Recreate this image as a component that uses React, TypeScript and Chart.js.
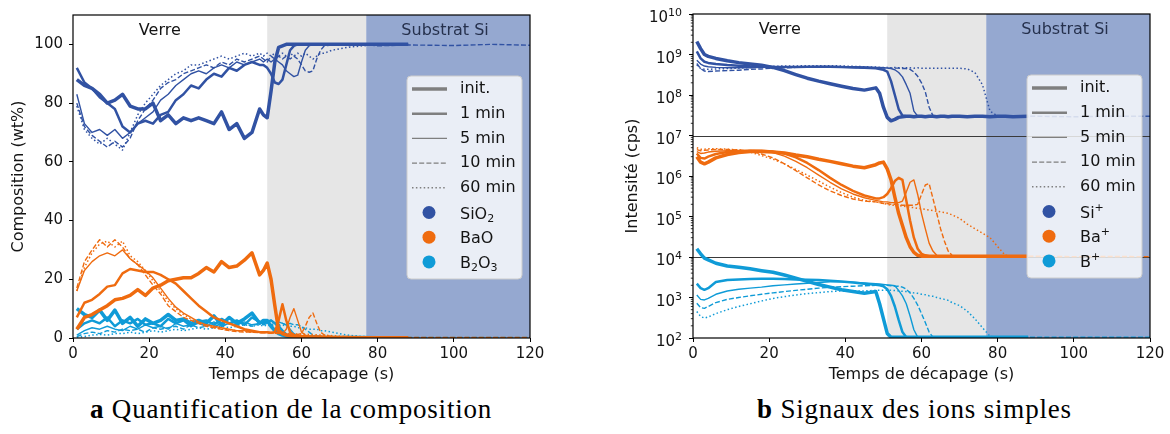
import React, { useEffect, useRef } from 'react';
import { Chart, registerables } from 'chart.js';
Chart.register(...registerables);

// ---------- data ----------
const T_LEFT = [1,3,5,7,9,11,13,15,17,19,21,23,25,27,29,31,33,35,37,39,41,43,45,47,49,
  50,51,52,53,54,55,56,57,58,59,60,61,62,63,64,65,66,
  68,70,72,76,80,88,100,110,120];

const SIO2_INIT = [88,86,85,83,80,81,83,79,78,78,80,74,76,73,75,74,75,74,73,77,71,73,68,70,78,
  76,75,84,94,99,99.5,100,100,100,100,100,100,100,100,100,100,100,
  100,100,100,100,100,100,null,null,null];
const SIO2_1MIN = [92,87,85,82,80,78,72,70,73,74,73,76,77,81,83,86,85,88,90,89,92,91,93,94,93,
  93,92,90,87,86.5,88,93,98,99.5,100,100,100,100,100,100,100,100,
  100,100,100,100,100,100,null,null,null];
const SIO2_5MIN = [83,73,70,71,69,71,68,70,73,75,77,81,83,86,88,90,91,90,92,93,92,94,93,94,95,
  94,95,94,95,94,93,91,90,89,89.5,94,98,99.5,100,100,100,100,
  100,100,100,100,100,100,null,null,null];
const SIO2_10MIN = [80,72,69,67,65,67,65,68,74,78,81,85,87,88,90,91,92,93,92,94,93,95,94,95,96,
  95,94,96,95,96,95,96,95,96,95,93,91,90.5,91,95,98,99.5,
  99.8,100,99.6,100,99.5,99.8,99.6,100,99.7];
const SIO2_60MIN = [79,71,68,66,68,66,64,70,76,80,83,86,88,90,91,93,93,94,95,96,95,96,97,96,97,
  96,97,96,97,96,97,96,97,96,97,96,97,96,95,96,97,97,
  98,98.5,99,99.5,100,100,null,null,null];

const BAO_INIT = [3,7,8,9.5,11,13,13.5,14.5,16.5,14.5,17,18,19.5,20,20.5,20.5,22,24,22.5,26,24,24.5,26.5,29,21.5,
  23,25.5,20,11,2.5,1.5,1,0.8,0.6,0.5,0.4,0.4,0.3,0.3,0.3,0.3,0.2,
  0.2,0.2,0.2,0.1,0.1,0.1,null,null,null];
const BAO_1MIN = [7,12,13,15,17.5,18,22,23.5,23,22.5,22.5,21.5,20,18.5,16,13.5,11,9,7,6,5,4,3,2.5,2,
  2,2,1.8,2,6,11.5,6,2,1,0.7,0.5,0.5,0.4,0.3,0.3,0.3,0.3,
  0.2,0.2,0.2,0.1,0.1,0.1,null,null,null];
const BAO_5MIN = [16,23,26,28,29,28,30,27,25,23,20.5,17,13.5,10.5,8.5,7,5.5,4.5,4,3.5,3,2.5,2.5,2,2,
  2,2,1.8,2,1.8,1.5,3,7,10,6,2,1,0.6,0.5,0.4,0.3,0.3,
  0.3,0.2,0.2,0.2,0.1,0.1,null,null,null];
const BAO_10MIN = [17,26,30,33.5,31,33.5,31,27,25,21.5,18,15,11,9,7,6,5,4,3.5,3,2.5,2.2,2,2,1.8,
  1.8,1.7,1.6,1.6,1.5,1.5,1.4,1.4,1.3,1.2,1.5,4,7,8.5,5,2,1,
  0.5,0.4,0.3,0.3,0.2,0.2,0.2,0.2,0.2];
const BAO_60MIN = [16,24,29,32,33,31,33,28,26,23,19.5,16,12.5,10,8,6.5,5,4,3.5,3,2.8,2.5,2.2,2,2,
  2,1.8,1.8,1.7,1.6,1.6,1.5,1.5,1.4,1.4,1.3,1.3,1.2,1.2,1.1,1,1,
  0.8,0.6,0.5,0.3,0.2,0.2,null,null,null];

const B2O3_INIT = [10,8,7,9.5,6,9.5,5,7,4,6.5,5,6,8,6,6.5,5,6,5,7.5,4.5,7,5,6.5,8.5,5,
  6,6,4,2.5,1.5,1,0.7,0.5,0.4,0.4,0.3,0.3,0.3,0.3,0.3,0.2,0.2,
  0.2,0.2,0.2,0.2,0.1,0.1,null,null,null];
const B2O3_1MIN = [3,5,6,5,7,4,6,5,6.5,4.5,5,4,6.5,5,6,4,5.5,6,4.5,6.5,5,6,4.5,7,5.5,
  5,5.5,6,5,4,2.5,1.2,0.8,0.5,0.4,0.4,0.3,0.3,0.3,0.3,0.3,0.2,
  0.2,0.2,0.2,0.2,0.1,0.1,null,null,null];
const B2O3_5MIN = [1,2.5,3.5,3,4,3,2.5,4,3,4.5,3.5,4,3,5,4,4.5,5,4,5.5,4,5,4.5,5.5,4.5,5,
  5.5,5,6,5,5.5,5,4.5,3,1.5,0.8,0.5,0.4,0.3,0.3,0.3,0.3,0.3,
  0.2,0.2,0.2,0.2,0.1,0.1,null,null,null];
const B2O3_10MIN = [0.5,1.5,2,1.5,2.5,2,3,2.5,3,2,3.5,3,3.5,4,3,4.5,3.5,4,4.5,4,5,4.5,5,4,5,
  4.5,5,4.5,5,4.5,5,4.5,5,4.5,4.5,4,3,2,1,0.6,0.4,0.3,
  0.3,0.2,0.2,0.2,0.2,0.2,0.2,0.2,0.2];
const B2O3_60MIN = [0.3,0.5,1,1.2,1,1.5,1.5,2,1.5,2,2.5,2,2.5,3,2.5,3,3.5,3,3.5,4,3.5,4,4.5,4,4.5,
  4,4.5,4,4.5,4,4.5,4,4,4,3.5,3.5,3.5,3,3,3,2.5,2.5,
  2,1.5,1,0.5,0.3,0.2,null,null,null];

const T_RIGHT = [1,2,3,4,6,9,12,15,18,21,24,27,30,33,36,39,42,45,48,
  49,50,51,52,53,54,55,56,57,58,59,60,61,62,63,64,65,66,67,68,
  70,72,74,76,78,80,82,84,88,100,110,120];

const SI_INIT = [2.1e9,1.4e9,1.0e9,9e8,8e8,7e8,6.3e8,5.8e8,5.4e8,4.8e8,4e8,3.2e8,2.6e8,2.2e8,1.9e8,1.65e8,1.45e8,1.32e8,1.5e8,
  1.1e8,5e7,2.8e7,2.3e7,2.5e7,2.8e7,2.9e7,3e7,3e7,2.9e7,3e7,3e7,2.9e7,3e7,3e7,2.9e7,3e7,3e7,2.9e7,3e7,
  3e7,2.9e7,3e7,3e7,2.9e7,3e7,3e7,2.9e7,3e7,null,null,null];
const SI_1MIN = [1.2e9,8e8,6.6e8,6.2e8,5.8e8,5.5e8,5.3e8,5.1e8,5e8,4.9e8,4.9e8,4.9e8,5e8,5e8,5e8,4.9e8,4.8e8,4.7e8,4.6e8,
  4.4e8,4.2e8,3.8e8,2.2e8,1e8,4.5e7,3.1e7,3e7,3e7,2.9e7,3e7,3e7,2.9e7,3e7,3e7,3e7,2.9e7,3e7,3e7,2.9e7,
  3e7,3e7,2.9e7,3e7,3e7,3e7,2.9e7,3e7,3e7,null,null,null];
const SI_5MIN = [7.2e8,5.8e8,5.2e8,5e8,4.8e8,4.7e8,4.7e8,4.7e8,4.8e8,4.8e8,4.9e8,5e8,5e8,5.1e8,5.1e8,5e8,5e8,4.9e8,4.8e8,
  4.8e8,4.7e8,4.6e8,4.5e8,4.2e8,3.6e8,2.8e8,1.8e8,1.1e8,4e7,3e7,3e7,2.9e7,3e7,3e7,3e7,2.9e7,3e7,3e7,3e7,
  2.9e7,3e7,3e7,3e7,2.9e7,3e7,3e7,3e7,3e7,null,null,null];
const SI_10MIN = [6e8,4.5e8,3.9e8,3.8e8,3.9e8,4e8,4.1e8,4.3e8,4.4e8,4.6e8,4.7e8,4.8e8,4.8e8,4.8e8,4.8e8,4.8e8,4.8e8,4.7e8,4.7e8,
  4.7e8,4.7e8,4.6e8,4.6e8,4.6e8,4.6e8,4.5e8,4.5e8,4.3e8,3.7e8,2.9e8,2e8,1.2e8,5e7,3.1e7,3e7,3e7,2.9e7,3e7,3e7,
  3e7,2.9e7,3e7,3.1e7,3e7,2.9e7,3e7,3e7,3e7,2.9e7,3e7,3e7];
const SI_60MIN = [5.5e8,4.5e8,4.3e8,4.3e8,4.4e8,4.5e8,4.6e8,4.8e8,5e8,5.1e8,5.2e8,5.2e8,5.3e8,5.3e8,5.3e8,5.2e8,5.1e8,5e8,4.9e8,
  4.8e8,4.8e8,4.8e8,4.7e8,4.8e8,4.7e8,4.7e8,4.7e8,4.7e8,4.6e8,4.7e8,4.6e8,4.6e8,4.6e8,4.6e8,4.6e8,4.6e8,4.6e8,4.6e8,4.6e8,
  4.6e8,4.4e8,3.6e8,1.8e8,4e7,3e7,3e7,3e7,3e7,null,null,null];

const BA_INIT = [3e6,2.2e6,2e6,2.2e6,2.8e6,3.4e6,3.8e6,4e6,4e6,3.9e6,3.7e6,3.3e6,3e6,2.6e6,2.3e6,2e6,1.75e6,1.6e6,1.9e6,
  2.1e6,2.2e6,1.5e6,8e5,3e5,1.2e5,6e4,3e4,1.8e4,1.3e4,1.1e4,1.05e4,1.05e4,1.05e4,1.05e4,1.05e4,1.05e4,1.05e4,1.05e4,1.05e4,
  1.05e4,1.05e4,1.05e4,1.05e4,1.05e4,1.05e4,1.05e4,1.05e4,1.05e4,null,null,null];
const BA_1MIN = [3.6e6,2.8e6,2.7e6,3e6,3.5e6,3.9e6,4.1e6,4.2e6,4.2e6,4e6,3.6e6,2.9e6,2.1e6,1.4e6,9e5,6e5,4.3e5,3.3e5,2.8e5,
  2.8e5,3e5,3.6e5,5e5,7.5e5,9e5,8e5,2.5e5,8e4,3e4,1.6e4,1.2e4,1.1e4,1.05e4,1.05e4,1.05e4,1.05e4,1.05e4,1.05e4,1.05e4,
  1.05e4,1.05e4,1.05e4,1.05e4,1.05e4,1.05e4,1.05e4,1.05e4,1.05e4,null,null,null];
const BA_5MIN = [4e6,3.6e6,3.7e6,3.9e6,4.1e6,4.2e6,4.3e6,4.3e6,4.2e6,3.8e6,3.1e6,2.3e6,1.6e6,1.05e6,7e5,4.8e5,3.6e5,2.9e5,2.5e5,
  2.4e5,2.3e5,2.3e5,2.2e5,2.2e5,2.2e5,2.4e5,4e5,7e5,8e5,3.5e5,1.2e5,5e4,2.2e4,1.4e4,1.1e4,1.05e4,1.05e4,1.05e4,1.05e4,
  1.05e4,1.05e4,1.05e4,1.05e4,1.05e4,1.05e4,1.05e4,1.05e4,1.05e4,null,null,null];
const BA_10MIN = [4.5e6,4.2e6,4.3e6,4.4e6,4.5e6,4.5e6,4.4e6,4.1e6,3.5e6,2.8e6,2e6,1.35e6,9e5,6e5,4.3e5,3.3e5,2.7e5,2.4e5,2.3e5,
  2.2e5,2.1e5,2.1e5,2e5,2e5,1.95e5,1.9e5,1.9e5,1.9e5,1.9e5,2e5,3.5e5,6e5,6.5e5,2.8e5,1.2e5,5e4,2.5e4,1.4e4,1.1e4,
  1.05e4,1.05e4,1.05e4,1.05e4,1.05e4,1.05e4,1.05e4,1.05e4,1.05e4,1.02e4,1.03e4,1.02e4];
const BA_60MIN = [5e6,4.6e6,4.6e6,4.7e6,4.7e6,4.6e6,4.4e6,3.9e6,3.2e6,2.6e6,2e6,1.45e6,1.05e6,7.5e5,5.3e5,3.9e5,3e5,2.5e5,2.3e5,
  2.2e5,2.1e5,2e5,1.9e5,1.9e5,1.85e5,1.8e5,1.75e5,1.7e5,1.65e5,1.6e5,1.55e5,1.5e5,1.45e5,1.4e5,1.35e5,1.3e5,1.25e5,1.2e5,1.1e5,
  9e4,6.5e4,5e4,3.9e4,3e4,1.8e4,1.1e4,1.05e4,1.05e4,null,null,null];

const B_INIT = [1.6e4,1.2e4,9.4e3,8.5e3,7e3,6e3,5.6e3,5.1e3,4.6e3,4.2e3,3.6e3,3e3,2.5e3,2.1e3,1.8e3,1.55e3,1.4e3,1.28e3,1.4e3,
  7e2,3e2,1.3e2,1.05e2,1.05e2,1.05e2,1.05e2,1.05e2,1.05e2,1.05e2,1.05e2,1.05e2,1.05e2,1.05e2,1.05e2,1.05e2,1.05e2,1.05e2,1.05e2,1.05e2,
  1.05e2,1.05e2,1.05e2,1.05e2,1.05e2,1.05e2,1.05e2,1.05e2,1.05e2,null,null,null];
const B_1MIN = [2.2e3,1.7e3,1.55e3,1.7e3,2.4e3,2.7e3,2.8e3,2.85e3,2.9e3,2.9e3,2.85e3,2.8e3,2.75e3,2.7e3,2.6e3,2.5e3,2.35e3,2.2e3,2.05e3,
  2e3,1.9e3,1.6e3,1.1e3,6e2,2.8e2,1.4e2,1.05e2,1.05e2,1.05e2,1.05e2,1.05e2,1.05e2,1.05e2,1.05e2,1.05e2,1.05e2,1.05e2,1.05e2,1.05e2,
  1.05e2,1.05e2,1.05e2,1.05e2,1.05e2,1.05e2,1.05e2,1.05e2,1.05e2,null,null,null];
const B_5MIN = [1.15e3,9e2,8.7e2,9.5e2,1.2e3,1.45e3,1.6e3,1.7e3,1.8e3,1.95e3,2.05e3,2.15e3,2.25e3,2.35e3,2.45e3,2.45e3,2.4e3,2.3e3,2.2e3,
  2.15e3,2.1e3,2.05e3,2e3,1.95e3,1.5e3,1.1e3,7e2,3.5e2,1.6e2,1.05e2,1.05e2,1.05e2,1.05e2,1.05e2,1.05e2,1.05e2,1.05e2,1.05e2,1.05e2,
  1.05e2,1.05e2,1.05e2,1.05e2,1.05e2,1.05e2,1.05e2,1.05e2,1.05e2,null,null,null];
const B_10MIN = [7.2e2,5.6e2,5.4e2,6e2,7.5e2,9e2,1e3,1.1e3,1.2e3,1.3e3,1.4e3,1.5e3,1.6e3,1.7e3,1.8e3,1.85e3,1.9e3,1.95e3,2e3,
  2e3,2e3,2e3,1.95e3,1.9e3,1.9e3,1.8e3,1.6e3,1.3e3,9.5e2,6.5e2,4e2,2.4e2,1.4e2,1.05e2,1.05e2,1.05e2,1.05e2,1.05e2,1.05e2,
  1.05e2,1.05e2,1.05e2,1.05e2,1.05e2,1.05e2,1.05e2,1.05e2,1.05e2,1.05e2,1.05e2,1.05e2];
const B_60MIN = [4.5e2,3.4e2,3.1e2,3.3e2,4e2,5e2,6e2,7e2,8.2e2,9.5e2,1.05e3,1.15e3,1.25e3,1.32e3,1.4e3,1.45e3,1.45e3,1.45e3,1.5e3,
  1.5e3,1.5e3,1.5e3,1.5e3,1.48e3,1.45e3,1.42e3,1.4e3,1.35e3,1.3e3,1.27e3,1.2e3,1.17e3,1.1e3,1.07e3,1e3,9.5e2,9e2,8.5e2,7.5e2,
  6.3e2,4.6e2,3e2,1.8e2,1.1e2,1.05e2,1.05e2,1.05e2,1.05e2,null,null,null];

const X_TICKS = [0, 20, 40, 60, 80, 100, 120];
const Y_TICKS_LEFT = [0, 20, 40, 60, 80, 100];
const Y_EXPONENTS_RIGHT = [2, 3, 4, 5, 6, 7, 8, 9, 10];
const REGION_BOUNDS = [51, 77];
const REF_LINES_RIGHT = [1e7, 1e4];
const COND_LABELS = ['init.', '1 min', '5 min', '10 min', '60 min'];
// '_' = subscript next char, '^' = superscript next char
const SPECIES_LEFT = ['SiO_2', 'BaO', 'B_2O_3'];
const SPECIES_RIGHT = ['Si^+', 'Ba^+', 'B^+'];

// ---------- styles ----------
const COLORS = ['#3152a3', '#ef6b0f', '#0f9bd7'];
const COND_STYLE = [
  { w: 3.5, dash: [] as number[] },
  { w: 2.5, dash: [] as number[] },
  { w: 1.4, dash: [] as number[] },
  { w: 1.4, dash: [5, 2.2] },
  { w: 1.5, dash: [1.5, 2.4] },
];
const TEXT = '#141414';
const FONT = "'DejaVu Sans', sans-serif";

Chart.defaults.font.family = FONT;
Chart.defaults.font.size = 15;
Chart.defaults.color = TEXT;

function drawRich(ctx: CanvasRenderingContext2D, s: string, x: number, y: number, size: number) {
  // y = baseline of main text; left aligned
  let cx = x;
  let i = 0;
  while (i < s.length) {
    const ch = s[i];
    if ((ch === '_' || ch === '^') && i + 1 < s.length) {
      const c2 = s[i + 1];
      ctx.font = `${Math.round(size * 0.7)}px ${FONT}`;
      const dy = ch === '_' ? size * 0.2 : -size * 0.42;
      ctx.fillText(c2, cx, y + dy);
      cx += ctx.measureText(c2).width;
      i += 2;
    } else {
      ctx.font = `${size}px ${FONT}`;
      ctx.fillText(ch, cx, y);
      cx += ctx.measureText(ch).width;
      i += 1;
    }
  }
}

function makeDatasets(T: number[], groups: (number | null)[][][]) {
  const ds: any[] = [];
  groups.forEach((series, gi) => {
    series.forEach((vals, ci) => {
      const pts: { x: number; y: number }[] = [];
      T.forEach((t, i) => {
        const v = vals[i];
        if (v !== null && v !== undefined) pts.push({ x: t, y: v });
      });
      ds.push({
        data: pts,
        borderColor: COLORS[gi],
        borderWidth: COND_STYLE[ci].w,
        borderDash: COND_STYLE[ci].dash,
        borderCapStyle: 'butt',
        borderJoinStyle: 'round',
        pointRadius: 0,
        fill: false,
        tension: 0,
      });
    });
  });
  return ds;
}

function overlayPlugin(cfg: { species: string[]; log: boolean; refLines: number[]; yTitle: string; yTitleX: number }) {
  return {
    id: 'overlay',
    beforeDatasetsDraw(chart: any) {
      const { ctx, chartArea: a, scales } = chart;
      const x = scales.x, y = scales.y;
      ctx.save();
      const x1 = x.getPixelForValue(REGION_BOUNDS[0]);
      const x2 = x.getPixelForValue(REGION_BOUNDS[1]);
      ctx.fillStyle = '#e6e6e6';
      ctx.fillRect(x1, a.top, x2 - x1, a.bottom - a.top);
      ctx.fillStyle = '#95a8d0';
      ctx.fillRect(x2, a.top, a.right - x2, a.bottom - a.top);
      ctx.strokeStyle = '#3a3a3a';
      ctx.lineWidth = 1.2;
      cfg.refLines.forEach((v) => {
        const py = Math.round(y.getPixelForValue(v)) + 0.5;
        ctx.beginPath();
        ctx.moveTo(a.left, py);
        ctx.lineTo(a.right, py);
        ctx.stroke();
      });
      ctx.restore();
    },
    afterDraw(chart: any) {
      const { ctx, chartArea: a, scales } = chart;
      const x = scales.x, y = scales.y;
      ctx.save();
      // frame
      ctx.strokeStyle = '#000';
      ctx.lineWidth = 1.2;
      ctx.strokeRect(a.left, a.top, a.right - a.left, a.bottom - a.top);
      // log axis: minor ticks + labels with exponents
      if (cfg.log) {
        ctx.lineWidth = 0.8;
        for (let e = 2; e < 10; e++) {
          for (let m = 2; m < 10; m++) {
            const py = y.getPixelForValue(m * Math.pow(10, e));
            ctx.beginPath();
            ctx.moveTo(a.left - 2.2, py);
            ctx.lineTo(a.left, py);
            ctx.stroke();
          }
        }
        ctx.fillStyle = TEXT;
        ctx.textBaseline = 'alphabetic';
        ctx.textAlign = 'left';
        Y_EXPONENTS_RIGHT.forEach((e) => {
          const py = y.getPixelForValue(Math.pow(10, e));
          ctx.font = `15px ${FONT}`;
          const w1 = ctx.measureText('10').width;
          ctx.font = `11px ${FONT}`;
          const w2 = ctx.measureText(String(e)).width;
          const right = a.left - 4 - 7;
          const left = right - w1 - w2;
          ctx.font = `15px ${FONT}`;
          ctx.fillText('10', left, py + 8);
          ctx.font = `11px ${FONT}`;
          ctx.fillText(String(e), left + w1, py + 2);
        });
      }
      // region labels
      ctx.font = `16px ${FONT}`;
      ctx.textAlign = 'center';
      ctx.textBaseline = 'middle';
      ctx.fillStyle = TEXT;
      ctx.fillText('Verre', x.getPixelForValue(22.8), a.top + 16);
      ctx.fillStyle = '#26314d';
      ctx.fillText('Substrat Si', x.getPixelForValue(97.7), a.top + 16);
      // axis titles
      ctx.fillStyle = TEXT;
      ctx.fillText('Temps de décapage (s)', (a.left + a.right) / 2, 375);
      ctx.save();
      ctx.translate(cfg.yTitleX, (a.top + a.bottom) / 2);
      ctx.rotate(-Math.PI / 2);
      ctx.fillText(cfg.yTitle, 0, 0);
      ctx.restore();
      // legend
      const bw = 115, bh = 203;
      const bx = a.right - 8 - bw, by = a.top + 61;
      ctx.beginPath();
      ctx.roundRect(bx, by, bw, bh, 4);
      ctx.fillStyle = 'rgba(255,255,255,0.8)';
      ctx.fill();
      ctx.strokeStyle = '#cccccc';
      ctx.lineWidth = 1;
      ctx.stroke();
      ctx.textAlign = 'left';
      const rowY = (i: number) => by + 13 + i * 24.7;
      COND_LABELS.forEach((lab, i) => {
        const ry = rowY(i);
        ctx.strokeStyle = '#7f7f7f';
        ctx.lineWidth = COND_STYLE[i].w;
        ctx.setLineDash(COND_STYLE[i].dash);
        ctx.beginPath();
        ctx.moveTo(bx + 5, ry);
        ctx.lineTo(bx + 40, ry);
        ctx.stroke();
        ctx.setLineDash([]);
        ctx.fillStyle = TEXT;
        ctx.textBaseline = 'middle';
        ctx.font = `16px ${FONT}`;
        ctx.fillText(lab, bx + 53, ry);
      });
      cfg.species.forEach((lab, i) => {
        const ry = rowY(i + 5);
        ctx.fillStyle = COLORS[i];
        ctx.beginPath();
        ctx.arc(bx + 22, ry, 6.5, 0, Math.PI * 2);
        ctx.fill();
        ctx.fillStyle = TEXT;
        ctx.textBaseline = 'alphabetic';
        drawRich(ctx, lab, bx + 53, ry + 6, 16);
      });
      ctx.restore();
    },
  };
}

function xScale() {
  return {
    type: 'linear',
    min: 0,
    max: 120,
    afterBuildTicks: (s: any) => { s.ticks = X_TICKS.map((v) => ({ value: v })); },
    afterFit: (s: any) => { s.height = 47; },
    ticks: { color: TEXT, font: { size: 15 }, padding: 3, maxRotation: 0, autoSkip: false },
    grid: { drawOnChartArea: false, drawTicks: true, tickLength: 4, color: '#000', lineWidth: 1 },
    border: { display: false },
  };
}

function leftConfig(): any {
  return {
    type: 'line',
    data: {
      datasets: makeDatasets(T_LEFT, [
        [SIO2_INIT, SIO2_1MIN, SIO2_5MIN, SIO2_10MIN, SIO2_60MIN],
        [BAO_INIT, BAO_1MIN, BAO_5MIN, BAO_10MIN, BAO_60MIN],
        [B2O3_INIT, B2O3_1MIN, B2O3_5MIN, B2O3_10MIN, B2O3_60MIN],
      ]),
    },
    options: {
      animation: false,
      responsive: false,
      devicePixelRatio: 1,
      events: [],
      layout: { padding: { left: 0, right: 55, top: 14, bottom: 0 } },
      plugins: { legend: { display: false }, tooltip: { enabled: false } },
      scales: {
        x: xScale(),
        y: {
          type: 'linear',
          min: 0,
          max: 110,
          afterBuildTicks: (s: any) => { s.ticks = Y_TICKS_LEFT.map((v) => ({ value: v })); },
          afterFit: (s: any) => { s.width = 73; },
          ticks: { color: TEXT, font: { size: 15 }, padding: 6 },
          grid: { drawOnChartArea: false, drawTicks: true, tickLength: 4, color: '#000', lineWidth: 1 },
          border: { display: false },
        },
      },
    },
    plugins: [overlayPlugin({ species: SPECIES_LEFT, log: false, refLines: [], yTitle: 'Composition (wt%)', yTitleX: 19 })],
  };
}

function rightConfig(): any {
  return {
    type: 'line',
    data: {
      datasets: makeDatasets(T_RIGHT, [
        [SI_INIT, SI_1MIN, SI_5MIN, SI_10MIN, SI_60MIN],
        [BA_INIT, BA_1MIN, BA_5MIN, BA_10MIN, BA_60MIN],
        [B_INIT, B_1MIN, B_5MIN, B_10MIN, B_60MIN],
      ]),
    },
    options: {
      animation: false,
      responsive: false,
      devicePixelRatio: 1,
      events: [],
      layout: { padding: { left: 0, right: 20, top: 14, bottom: 0 } },
      plugins: { legend: { display: false }, tooltip: { enabled: false } },
      scales: {
        x: xScale(),
        y: {
          type: 'logarithmic',
          min: 1e2,
          max: 1e10,
          afterBuildTicks: (s: any) => { s.ticks = Y_EXPONENTS_RIGHT.map((e) => ({ value: Math.pow(10, e) })); },
          afterFit: (s: any) => { s.width = 108; },
          ticks: { display: false },
          grid: { drawOnChartArea: false, drawTicks: true, tickLength: 4, color: '#000', lineWidth: 1 },
          border: { display: false },
        },
      },
    },
    plugins: [overlayPlugin({ species: SPECIES_RIGHT, log: true, refLines: REF_LINES_RIGHT, yTitle: 'Intensité (cps)', yTitleX: 48 })],
  };
}

const captionStyle: React.CSSProperties = {
  position: 'absolute',
  top: 393,
  fontFamily: "'Liberation Serif', serif",
  fontSize: 27,
  letterSpacing: 0.8,
  color: '#000',
  whiteSpace: 'nowrap',
  lineHeight: '32px',
};

export default function App() {
  const leftRef = useRef<HTMLCanvasElement>(null);
  const rightRef = useRef<HTMLCanvasElement>(null);
  useEffect(() => {
    const c1 = new Chart(leftRef.current as HTMLCanvasElement, leftConfig());
    const c2 = new Chart(rightRef.current as HTMLCanvasElement, rightConfig());
    return () => {
      c1.destroy();
      c2.destroy();
    };
  }, []);
  return (
    <div style={{ position: 'fixed', left: 0, top: 0, width: 1170, height: 434, background: '#fff', overflow: 'hidden' }}>
      <canvas ref={leftRef} width={585} height={385} style={{ position: 'absolute', left: 0, top: 0, width: 585, height: 385 }} />
      <canvas ref={rightRef} width={585} height={385} style={{ position: 'absolute', left: 585, top: 0, width: 585, height: 385 }} />
      <div style={{ ...captionStyle, left: 90 }}>
        <b>a</b> Quantification de la composition
      </div>
      <div style={{ ...captionStyle, left: 757 }}>
        <b>b</b> Signaux des ions simples
      </div>
    </div>
  );
}
